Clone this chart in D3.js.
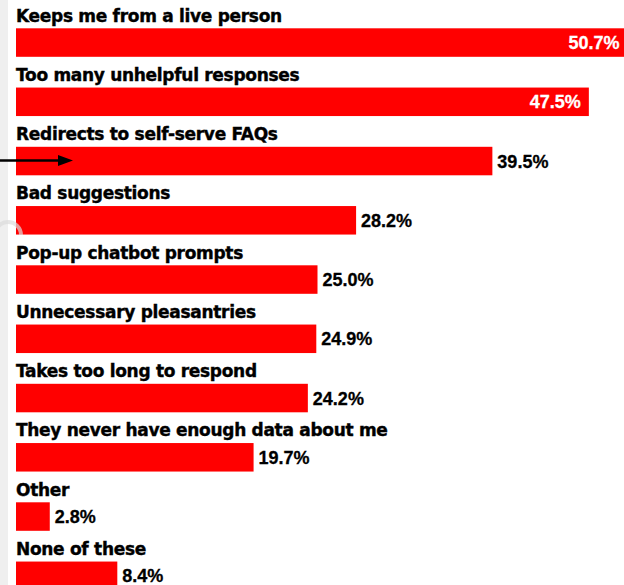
<!DOCTYPE html>
<html>
<head>
<meta charset="utf-8">
<script src="https://cdn.jsdelivr.net/npm/d3@7"></script>
<style>
  body { margin: 0; background: #fff; }
  svg { display: block; }
</style>
</head>
<body>
<svg id="drawing_region"></svg>
<script>
const categories = [
    "Keeps me from a live person",
    "Too many unhelpful responses",
    "Redirects to self-serve FAQs",
    "Bad suggestions",
    "Pop-up chatbot prompts",
    "Unnecessary pleasantries",
    "Takes too long to respond",
    "They never have enough data about me",
    "Other",
    "None of these"
];
const values = [50.7, 47.5, 39.5, 28.2, 25.0, 24.9, 24.2, 19.7, 2.8, 8.4];
const valueLabels = ["50.7%", "47.5%", "39.5%", "28.2%", "25.0%", "24.9%", "24.2%", "19.7%", "2.8%", "8.4%"];

const width = 624, height = 585;
const left = 16;

const svg = d3.select('#drawing_region')
    .attr('width', width)
    .attr('height', height);

// grey strip on left edge
svg.append('rect')
    .attr('x', 0).attr('y', 0)
    .attr('width', 8).attr('height', height)
    .attr('fill', '#efefef');

const xscale = d3.scaleLinear()
    .domain([0, 50])
    .range([0, 603]);

const yscale = d3.scaleBand()
    .domain(categories)
    .range([0, 592.5]);

const data = categories.map((c, i) => ({ cat: c, value: values[i], label: valueLabels[i] }));

const row = svg.append('g')
    .attr('transform', `translate(${left}, 0)`)
    .selectAll('g')
    .data(data)
    .join('g')
    .attr('transform', d => `translate(0, ${yscale(d.cat)})`);

row.append('text')
    .attr('x', 0)
    .attr('y', 21.5)
    .attr('font-family', 'DejaVu Sans')
    .attr('font-weight', 'bold')
    .attr('font-size', '17px')
    .attr('letter-spacing', '-0.3px')
    .attr('fill', '#000')
    .attr('stroke', '#000')
    .attr('stroke-width', 0.4)
    .text(d => d.cat);

row.append('rect')
    .attr('x', 0)
    .attr('y', 28.3)
    .attr('width', d => xscale(d.value))
    .attr('height', 28.5)
    .attr('fill', '#ff0000');

row.append('text')
    .attr('x', d => d.value > 45 ? xscale(d.value) - 8 : xscale(d.value) + 5)
    .attr('y', 49)
    .attr('text-anchor', d => d.value > 45 ? 'end' : 'start')
    .attr('font-family', 'Liberation Sans')
    .attr('font-weight', 'bold')
    .attr('font-size', '18px')
    .attr('fill', d => d.value > 45 ? '#fff' : '#000')
    .attr('stroke', d => d.value > 45 ? '#fff' : '#000')
    .attr('stroke-width', 0.3)
    .text(d => d.label);

// arrow annotation pointing at the FAQ bar
const ay = yscale(categories[2]) + 42;
svg.append('line')
    .attr('x1', 0).attr('x2', 60)
    .attr('y1', ay).attr('y2', ay)
    .attr('stroke', '#000')
    .attr('stroke-width', 2.5);
svg.append('path')
    .attr('d', `M58,${ay - 5.5} L73,${ay} L58,${ay + 5.5} Z`)
    .attr('fill', '#000');

// faint watermark arc
svg.append('path')
    .attr('d', d3.arc()({ innerRadius: 11, outerRadius: 15, startAngle: -Math.PI / 2, endAngle: Math.PI / 2 }))
    .attr('transform', 'translate(8, 235)')
    .attr('fill', '#dcdcdc')
    .attr('opacity', 0.7);
</script>
</body>
</html>
